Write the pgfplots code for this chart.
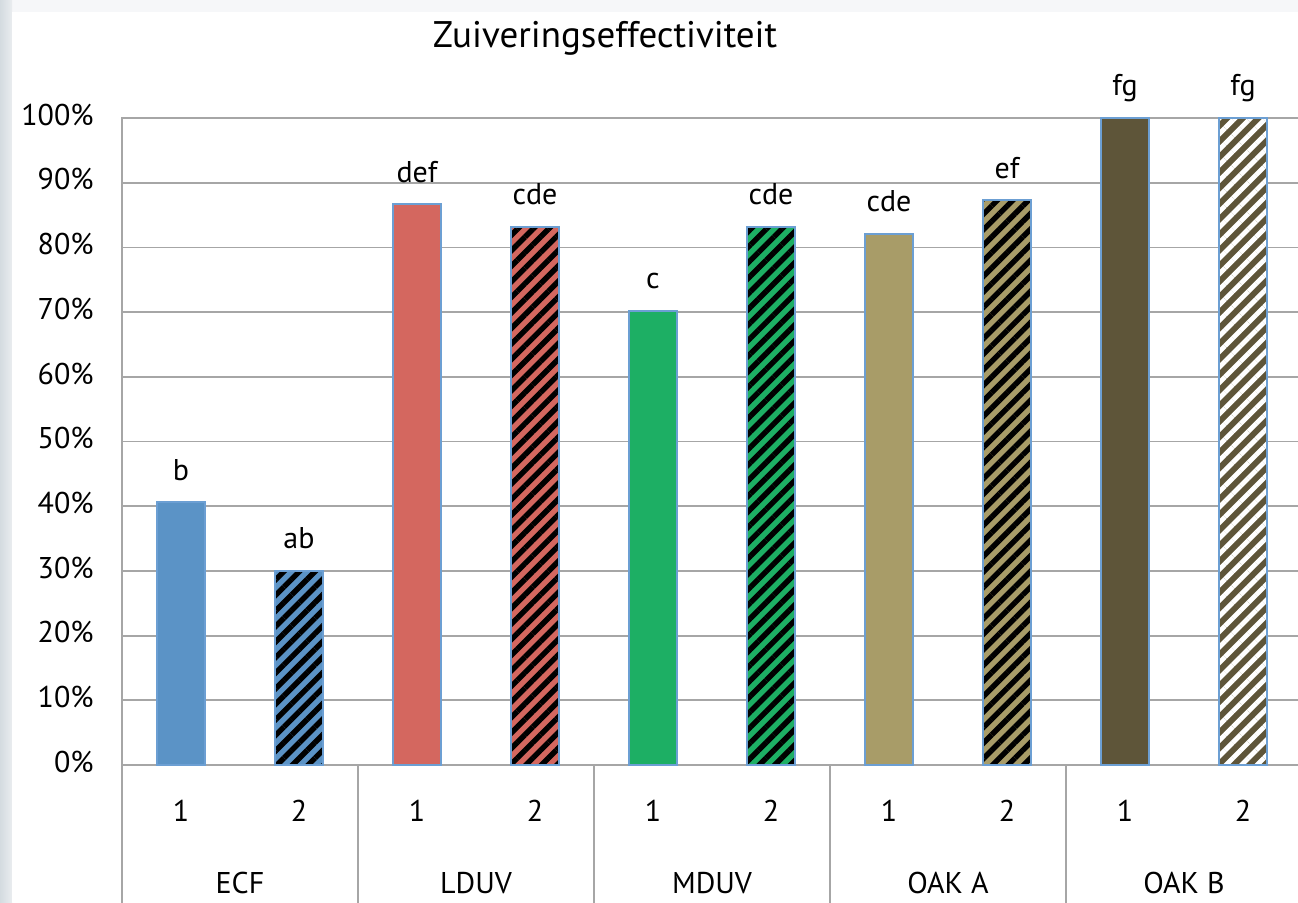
\documentclass[border=0pt]{standalone}
\usepackage{pgfplots}
\pgfplotsset{compat=1.18}
\usepackage{fontspec}
\setmainfont{PT Sans}
\usetikzlibrary{patterns.meta}
\definecolor{cblue}{HTML}{5B93C6}
\definecolor{cred}{HTML}{D4675F}
\definecolor{cgreen}{HTML}{1DAF64}
\definecolor{ctan}{HTML}{A89C68}
\definecolor{colive}{HTML}{5E5539}
\definecolor{cedge}{HTML}{6C9FD3}
\definecolor{cgrid}{HTML}{A6A6A6}
\definecolor{cframe}{HTML}{C9D2D8}
\definecolor{ctop}{HTML}{F6F7F9}
\tikzset{
  hatchblack/.style={postaction={pattern={Lines[angle=45,distance=5.5pt,line width=2.7pt]},pattern color=black}},
  hatchwhite/.style={postaction={pattern={Lines[angle=45,distance=5.5pt,line width=2.4pt]},pattern color=white}},
}
\begin{document}
\begin{tikzpicture}
\path[use as bounding box] (0,0) rectangle (649pt,451pt);
\fill[ctop] (0,0) rectangle (649pt,451pt);
\shade[left color=cframe!80, right color=cframe!40] (0,0) rectangle (6pt,451pt);
\fill[white] (6pt,0) rectangle (649pt,445pt);
\node[font=\fontsize{18.5pt}{21pt}\selectfont] at (302.5pt,432pt) {Zuiveringseffectiviteit};
\begin{axis}[
  at={(61pt,68.5pt)}, anchor=south west,
  scale only axis, width=590pt, height=323.5pt,
  xmin=-0.5, xmax=9.5, ymin=0, ymax=100,
  ybar, bar width=24pt, bar shift=0pt,
  axis line style={cgrid, line width=0.9pt},
  ymajorgrids, grid style={cgrid, line width=0.9pt},
  ytick={0,10,...,100},
  yticklabels={0\%,10\%,20\%,30\%,40\%,50\%,60\%,70\%,80\%,90\%,100\%},
  yticklabel style={inner sep=0pt, anchor=east, xshift=-14pt, font=\fontsize{15pt}{18pt}\selectfont},
  xtick={0,...,9},
  xticklabels={1,2,1,2,1,2,1,2,1,2},
  xticklabel style={anchor=base, inner sep=0pt, font=\fontsize{15pt}{18pt}\selectfont},
  xticklabel shift=28pt,
  typeset ticklabels with strut=false,
  major tick length=0pt,
  tick style={draw=none},
  clip=false,
  nodes near coords,
  point meta=explicit symbolic,
  every node near coord/.append style={anchor=base, yshift=11pt, inner sep=0pt, font=\fontsize{15pt}{18pt}\selectfont, black},
]
\addplot[fill=cblue, draw=cedge, line width=0.9pt] coordinates {(0,40.6) [b]};
\addplot[fill=cblue, draw=cedge, line width=0.9pt, hatchblack] coordinates {(1,30.0) [ab]};
\addplot[fill=cred, draw=cedge, line width=0.9pt] coordinates {(2,86.7) [def]};
\addplot[fill=cred, draw=cedge, line width=0.9pt, hatchblack] coordinates {(3,83.2) [cde]};
\addplot[fill=cgreen, draw=cedge, line width=0.9pt] coordinates {(4,70.2) [c]};
\addplot[fill=cgreen, draw=cedge, line width=0.9pt, hatchblack] coordinates {(5,83.2) [cde]};
\addplot[fill=ctan, draw=cedge, line width=0.9pt] coordinates {(6,82.1) [cde]};
\addplot[fill=ctan, draw=cedge, line width=0.9pt, hatchblack] coordinates {(7,87.3) [ef]};
\addplot[fill=colive, draw=cedge, line width=0.9pt] coordinates {(8,100) [fg]};
\addplot[fill=colive, draw=cedge, line width=0.9pt, hatchwhite] coordinates {(9,100) [fg]};
\foreach \s in {-0.5,1.5,3.5,5.5,7.5,9.5} {
  \edef\tmp{\noexpand\draw[cgrid, line width=0.9pt] (axis cs:\s,0) -- ++(0pt,-75pt);}
  \tmp
}
\foreach \g/\n in {0.5/ECF,2.5/LDUV,4.5/MDUV,6.5/OAK A,8.5/OAK B} {
  \edef\tmp{\noexpand\node[anchor=base, inner sep=0pt, font=\noexpand\fontsize{15pt}{18pt}\noexpand\selectfont] at (axis cs:\g,0) [yshift=-64pt] {\n};}
  \tmp
}
\end{axis}
\end{tikzpicture}
\end{document}
